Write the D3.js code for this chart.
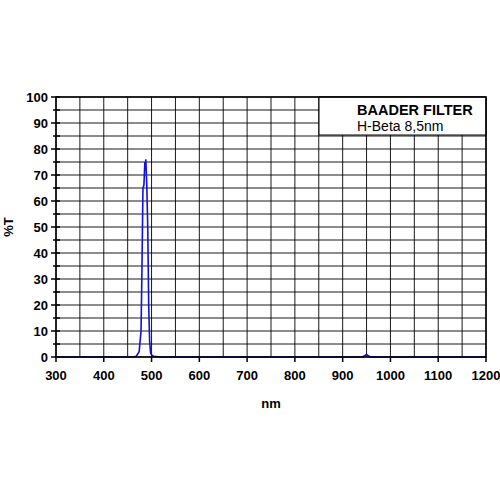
<!DOCTYPE html>
<html><head><meta charset="utf-8">
<script src="https://cdn.jsdelivr.net/npm/d3@7"></script>
<style>body{margin:0;background:#fff}</style></head>
<body><svg id="c" width="500" height="500"></svg>
<script>
const wavelengths = [300,460,468,474,478,480,482,484,486,487,488,490,492,494,496,498,500,504,520,940,946,950,954,960,1200];
const transmission = [0,0,0.3,2,10,35,65,66,75,73,76,66,50,20,6,1.5,0.8,0.3,0,0,0.5,1,0.4,0,0];
const xTicks = [300,400,500,600,700,800,900,1000,1100,1200];
const yTicks = [0,10,20,30,40,50,60,70,80,90,100];

const svg = d3.select("#c");
const x = d3.scaleLinear().domain([300,1200]).range([56,486]);
const y = d3.scaleLinear().domain([0,100]).range([357,97]);
const font = "Liberation Sans, Arial, sans-serif";

const g = svg.append("g");
g.selectAll(".vg").data(d3.range(300,1201,50)).join("line")
  .attr("x1",x).attr("x2",x).attr("y1",y(0)).attr("y2",y(100))
  .attr("stroke","#000").attr("stroke-width",0.9);
g.selectAll(".hg").data(d3.range(0,101,5)).join("line")
  .attr("x1",x(300)).attr("x2",x(1200)).attr("y1",y).attr("y2",y)
  .attr("stroke","#000").attr("stroke-width",0.9);

g.selectAll(".yt").data(d3.range(0,101,5)).join("line")
  .attr("x1",d=>d%10===0?x(300)-5:x(300)-3).attr("x2",x(300)+4).attr("y1",y).attr("y2",y)
  .attr("stroke","#000").attr("stroke-width",1.5);
g.selectAll(".xt").data(xTicks).join("line")
  .attr("x1",x).attr("x2",x).attr("y1",y(0)).attr("y2",y(0)+5)
  .attr("stroke","#000").attr("stroke-width",1.5);

g.selectAll(".yl").data(yTicks).join("text")
  .attr("x",x(300)-8).attr("y",d=>y(d)+4.5).attr("text-anchor","end")
  .attr("font-family",font).attr("font-weight","bold").attr("font-size",13).text(d=>d);
g.selectAll(".xl").data(xTicks).join("text")
  .attr("x",x).attr("y",y(0)+23).attr("text-anchor","middle")
  .attr("font-family",font).attr("font-weight","bold").attr("font-size",13).text(d=>d);

svg.append("text").attr("x",271).attr("y",408).attr("text-anchor","middle")
  .attr("font-family",font).attr("font-weight","bold").attr("font-size",13).text("nm");
svg.append("text").attr("transform","translate(13,227) rotate(-90)").attr("text-anchor","middle")
  .attr("font-family",font).attr("font-weight","bold").attr("font-size",13).text("%T");

svg.append("rect").attr("x",319).attr("y",y(100)).attr("width",x(1200)-319).attr("height",38)
  .attr("fill","#fff").attr("stroke","#000").attr("stroke-width",1);
svg.append("text").attr("x",357).attr("y",115).attr("font-family",font).attr("font-weight","bold")
  .attr("font-size",14.5).text("BAADER FILTER");
svg.append("text").attr("x",357).attr("y",131).attr("font-family",font)
  .attr("font-size",14).text("H-Beta 8,5nm");

const line = d3.line().x((d,i)=>x(wavelengths[i])).y(d=>y(d));
svg.append("path").datum(transmission).attr("d",line)
  .attr("fill","none").attr("stroke","#1010e0").attr("stroke-width",1.6);

svg.append("rect").attr("x",x(300)).attr("y",y(100)).attr("width",x(1200)-x(300)).attr("height",y(0)-y(100))
  .attr("fill","none").attr("stroke","#000").attr("stroke-width",1.5);
</script></body></html>
